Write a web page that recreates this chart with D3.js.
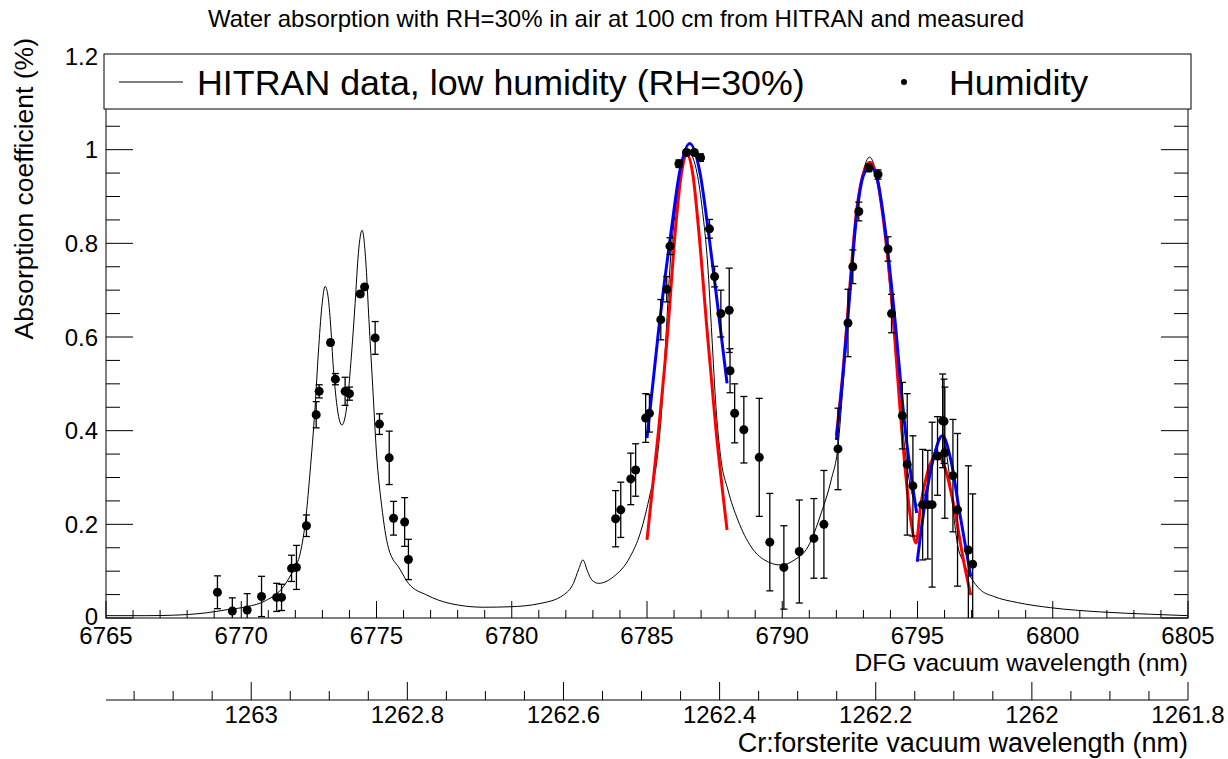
<!DOCTYPE html>
<html><head><meta charset="utf-8">
<script src="https://cdn.jsdelivr.net/npm/d3@7"></script>
<style>body{margin:0;background:#fff}svg{display:block}text{font-family:"Liberation Sans",Arial,Helvetica,sans-serif;fill:#000}</style>
</head><body><svg id="c" width="1228" height="759"></svg>
<script>
// ---------------- data ----------------
const hitranX = [6765.0,6766.5,6767.5,6768.7,6769.5,6770.2,6770.9,6771.56,6771.93,6772.18,6772.40,6772.54,6772.73,6772.85,6772.98,6773.10,6773.20,6773.29,6773.41,6773.56,6773.72,6773.90,6774.08,6774.21,6774.33,6774.47,6774.60,6774.72,6774.86,6775.00,6775.19,6775.44,6775.87,6776.18,6776.86,6777.72,6778.95,6779.94,6781.05,6781.91,6782.28,6782.48,6782.63,6782.80,6782.96,6783.21,6783.76,6784.38,6784.75,6785.12,6785.37,6785.55,6785.70,6785.86,6786.05,6786.25,6786.55,6786.85,6787.05,6787.24,6787.40,6787.55,6787.72,6787.99,6788.36,6788.85,6789.34,6789.96,6790.45,6790.95,6791.44,6791.81,6792.06,6792.25,6792.45,6792.75,6793.00,6793.23,6793.45,6793.75,6794.05,6794.35,6794.65,6794.85,6795.05,6795.30,6795.60,6795.90,6796.10,6796.30,6796.47,6796.72,6796.96,6797.33,6797.82,6798.69,6799.92,6801.77,6803.62,6805.0];
const hitranY = [0.005,0.005,0.006,0.011,0.018,0.024,0.037,0.067,0.103,0.138,0.22,0.309,0.451,0.566,0.665,0.708,0.690,0.637,0.530,0.444,0.412,0.451,0.566,0.672,0.779,0.828,0.765,0.637,0.494,0.352,0.240,0.150,0.104,0.074,0.049,0.031,0.023,0.024,0.031,0.049,0.074,0.105,0.124,0.100,0.081,0.074,0.088,0.131,0.181,0.266,0.338,0.45,0.60,0.758,0.87,0.95,0.993,0.95,0.87,0.758,0.60,0.45,0.345,0.274,0.209,0.152,0.124,0.113,0.124,0.152,0.224,0.295,0.366,0.50,0.66,0.87,0.955,0.984,0.955,0.84,0.66,0.46,0.31,0.255,0.24,0.27,0.35,0.39,0.34,0.24,0.16,0.117,0.088,0.060,0.046,0.033,0.022,0.013,0.008,0.005];

const measX = [6769.12,6769.67,6770.22,6770.75,6771.31,6771.49,6771.86,6772.04,6772.41,6772.77,6772.88,6773.30,6773.48,6773.84,6774.00,6774.40,6774.56,6774.95,6775.11,6775.47,6775.63,6776.04,6776.18,6783.84,6784.03,6784.40,6784.58,6784.95,6785.09,6785.51,6785.73,6785.85,6786.18,6786.46,6786.75,6786.98,6787.31,6787.50,6787.73,6788.04,6788.07,6788.24,6788.58,6789.15,6789.54,6790.06,6790.63,6791.17,6791.54,6792.06,6792.43,6792.61,6792.83,6793.20,6793.54,6793.91,6794.04,6794.44,6794.62,6794.83,6795.19,6795.38,6795.54,6795.74,6795.93,6795.98,6796.01,6796.31,6796.48,6796.88,6797.04];
const measY = [0.055,0.015,0.017,0.046,0.044,0.044,0.106,0.108,0.197,0.434,0.484,0.588,0.510,0.484,0.479,0.692,0.707,0.598,0.414,0.342,0.213,0.205,0.125,0.212,0.231,0.297,0.316,0.427,0.437,0.637,0.702,0.794,0.970,0.994,0.994,0.983,0.831,0.729,0.650,0.657,0.528,0.437,0.402,0.343,0.162,0.108,0.142,0.170,0.200,0.361,0.630,0.750,0.868,0.961,0.947,0.788,0.650,0.432,0.328,0.282,0.242,0.242,0.242,0.346,0.421,0.420,0.353,0.304,0.231,0.145,0.115];
const measErr = [0.035,0.028,0.035,0.043,0.030,0.028,0.028,0.047,0.023,0.028,0.014,0.006,0.012,0.030,0.014,0.006,0.005,0.035,0.022,0.057,0.036,0.052,0.043,0.060,0.059,0.055,0.056,0.052,0.040,0.043,0.027,0.018,0.008,0.006,0.006,0.008,0.020,0.022,0.050,0.090,0.047,0.063,0.071,0.126,0.104,0.089,0.110,0.085,0.115,0.087,0.072,0.036,0.020,0.008,0.010,0.026,0.041,0.071,0.151,0.107,0.118,0.116,0.176,0.084,0.100,0.090,0.140,0.120,0.163,0.180,0.150];

// Gaussian fits
const red1X = [6785.00,6785.43,6785.77,6786.05,6786.25,6786.48,6786.70,6786.91,6787.22,6787.55,6787.96];
const red1Y = [0.167,0.402,0.615,0.829,0.940,0.989,0.945,0.829,0.615,0.402,0.188];
const blue1X = [6785.00,6785.43,6785.65,6785.90,6786.20,6786.58,6786.96,6787.26,6787.50,6787.72,6787.96];
const blue1Y = [0.384,0.615,0.72,0.829,0.95,1.013,0.95,0.829,0.72,0.615,0.501];
const red2X = [6792.00,6792.25,6792.46,6792.75,6793.00,6793.24,6793.50,6793.76,6794.07,6794.35,6794.56,6794.75,6794.95,6795.11,6795.36,6795.73,6796.04,6796.35,6796.72,6796.97];
const red2Y = [0.39,0.53,0.68,0.87,0.95,0.973,0.94,0.84,0.665,0.45,0.309,0.21,0.160,0.238,0.309,0.348,0.316,0.238,0.117,0.049];
const blue2X = [6792.00,6792.25,6792.46,6792.75,6793.00,6793.25,6793.50,6793.76,6794.13,6794.55,6794.97];
const blue2Y = [0.380,0.52,0.665,0.86,0.945,0.964,0.94,0.85,0.658,0.40,0.224];
const blue3X = [6794.99,6795.24,6795.61,6795.92,6796.23,6796.54,6796.97];
const blue3Y = [0.120,0.231,0.345,0.389,0.338,0.231,0.088];

const xMajor = [6765,6770,6775,6780,6785,6790,6795,6800,6805];
const yMajor = [0,0.2,0.4,0.6,0.8,1.0,1.2];
const yLabels = ["0","0.2","0.4","0.6","0.8","1","1.2"];
const x2Major = [1263,1262.8,1262.6,1262.4,1262.2,1262,1261.8];
const x2Labels = ["1263","1262.8","1262.6","1262.4","1262.2","1262","1261.8"];

const titleText = "Water absorption with RH=30% in air at 100 cm from HITRAN and measured";
const xTitle = "DFG vacuum wavelength (nm)";
const x2Title = "Cr:forsterite vacuum wavelength (nm)";
const yTitle = "Absorption coefficient (%)";
const legend1 = "HITRAN data, low humidity (RH=30%)";
const legend2 = "Humidity";

// ---------------- drawing ----------------
const svg = d3.select("#c");
const L = 106, R = 1188, T = 56, B = 618;
const x = d3.scaleLinear().domain([6765, 6805]).range([L, R]);
const y = d3.scaleLinear().domain([0, 1.2]).range([B, T]);
const x2 = d3.scaleLinear().domain([1263.186, 1261.8]).range([L, R]);

svg.append("defs").append("clipPath").attr("id","fr")
  .append("rect").attr("x",L).attr("y",T).attr("width",R-L).attr("height",B-T);

const g = svg.append("g");
g.append("rect").attr("x",L).attr("y",T).attr("width",R-L).attr("height",B-T)
  .attr("fill","none").attr("stroke","#000").attr("stroke-width",1);

const yMinor = d3.range(0, 1.2001, 0.05);
yMinor.forEach(v => {
  const major = Math.abs(v*5 - Math.round(v*5)) < 1e-6;
  const len = major ? 27 : 14;
  g.append("line").attr("x1",L).attr("x2",L+len).attr("y1",y(v)).attr("y2",y(v)).attr("stroke","#000");
  g.append("line").attr("x1",R).attr("x2",R-len).attr("y1",y(v)).attr("y2",y(v)).attr("stroke","#000");
});
const xMinor = d3.range(6765, 6805.001, 1);
xMinor.forEach(v => {
  const major = (v % 5) === 0;
  const len = major ? 17 : 8;
  g.append("line").attr("x1",x(v)).attr("x2",x(v)).attr("y1",B).attr("y2",B-len).attr("stroke","#000");
  g.append("line").attr("x1",x(v)).attr("x2",x(v)).attr("y1",T).attr("y2",T+len).attr("stroke","#000");
});

yMajor.forEach((v,i) => {
  g.append("text").attr("x",98).attr("y",y(v)+(v===0?7:8.5)).attr("text-anchor","end")
   .attr("font-size",24).text(yLabels[i]);
});
xMajor.forEach(v => {
  g.append("text").attr("x",x(v)).attr("y",644).attr("text-anchor","middle")
   .attr("font-size",24).text(String(v));
});

// second axis
g.append("line").attr("x1",L).attr("x2",R).attr("y1",700).attr("y2",700).attr("stroke","#000");
d3.range(1263.15, 1261.79, -0.05).forEach(v => {
  const vv = Math.round(v*100)/100;
  const major = Math.abs(vv*5 - Math.round(vv*5)) < 1e-6;
  const len = major ? 18 : 9;
  g.append("line").attr("x1",x2(vv)).attr("x2",x2(vv)).attr("y1",700).attr("y2",700-len).attr("stroke","#000");
});
x2Major.forEach((v,i) => {
  g.append("text").attr("x",x2(v)).attr("y",723).attr("text-anchor","middle")
   .attr("font-size",24).text(x2Labels[i]);
});

// titles
svg.append("text").attr("x",616).attr("y",27).attr("text-anchor","middle").attr("font-size",24).text(titleText);
svg.append("text").attr("x",R).attr("y",671).attr("text-anchor","end").attr("font-size",24.6).text(xTitle);
svg.append("text").attr("x",R).attr("y",752).attr("text-anchor","end").attr("font-size",27).text(x2Title);
svg.append("text").attr("transform","translate(33,38) rotate(-90)").attr("text-anchor","end")
  .attr("font-size",26.5).text(yTitle);

// plot contents
const plot = svg.append("g").attr("clip-path","url(#fr)");
const line = d3.line().x(d=>x(d[0])).y(d=>y(d[1])).curve(d3.curveMonotoneX);
const zipPts = (a,b) => a.map((v,i)=>[v,b[i]]);

plot.append("path").attr("d", line(zipPts(hitranX,hitranY)))
  .attr("fill","none").attr("stroke","#000").attr("stroke-width",1);

[[red1X,red1Y,"#ff0000"],[red2X,red2Y,"#ff0000"],[blue1X,blue1Y,"#0000ff"],[blue2X,blue2Y,"#0000ff"],[blue3X,blue3Y,"#0000ff"]]
 .forEach(([a,b,c]) => {
  plot.append("path").attr("d", line(zipPts(a,b)))
   .attr("fill","none").attr("stroke",c).attr("stroke-width",3);
 });

measX.forEach((v,i) => {
  const cx = x(v), lo = y(measY[i]-measErr[i]), hi = y(measY[i]+measErr[i]);
  plot.append("line").attr("x1",cx).attr("x2",cx).attr("y1",lo).attr("y2",hi).attr("stroke","#000").attr("stroke-width",1.3);
  plot.append("line").attr("x1",cx-3.5).attr("x2",cx+3.5).attr("y1",lo).attr("y2",lo).attr("stroke","#000").attr("stroke-width",1.3);
  plot.append("line").attr("x1",cx-3.5).attr("x2",cx+3.5).attr("y1",hi).attr("y2",hi).attr("stroke","#000").attr("stroke-width",1.3);
});
measX.forEach((v,i) => {
  plot.append("circle").attr("cx",x(v)).attr("cy",y(measY[i])).attr("r",4.5).attr("fill","#000");
});

// legend
const lg = svg.append("g");
lg.append("rect").attr("x",104).attr("y",54).attr("width",1087).attr("height",55)
  .attr("fill","#fff").attr("stroke","#000").attr("stroke-width",1);
lg.append("line").attr("x1",119).attr("x2",183).attr("y1",82).attr("y2",82).attr("stroke","#000");
lg.append("text").attr("x",197).attr("y",94.5).attr("font-size",35.8).text(legend1);
lg.append("circle").attr("cx",904).attr("cy",82).attr("r",3).attr("fill","#000");
lg.append("text").attr("x",949).attr("y",94.5).attr("font-size",35.8).text(legend2);
</script>
</body></html>
